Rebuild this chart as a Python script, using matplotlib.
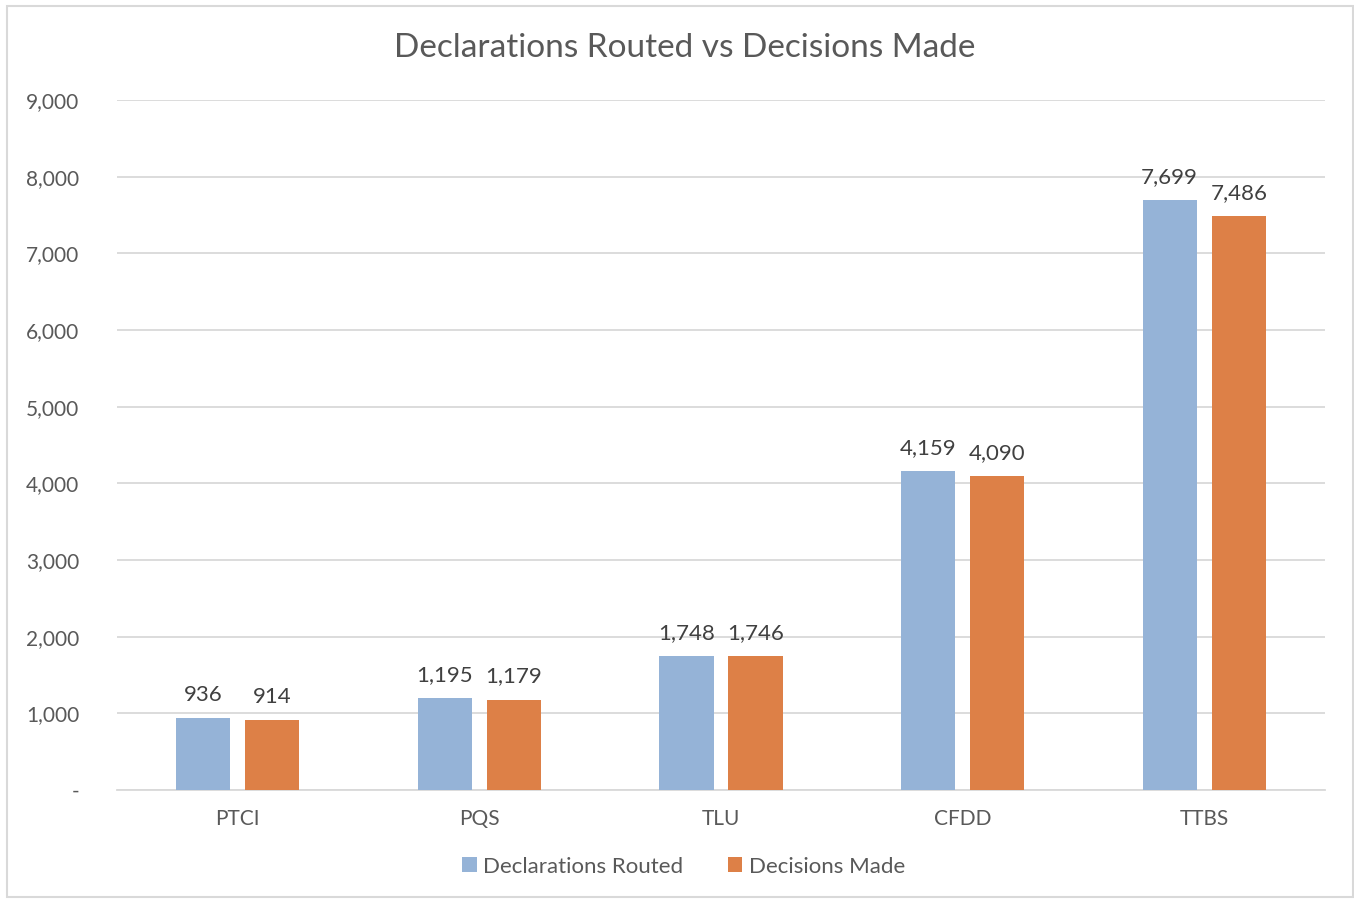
import numpy as np
import matplotlib.pyplot as plt
from matplotlib.patches import Rectangle
from matplotlib.ticker import FuncFormatter

plt.rcParams['font.family'] = ['Lato', 'DejaVu Sans']

categories = ['PTCI', 'PQS', 'TLU', 'CFDD', 'TTBS']
routed = [936, 1195, 1748, 4159, 7699]
decisions = [914, 1179, 1746, 4090, 7486]

blue = '#95B3D7'
orange = '#DD8047'
text_c = '#595959'
grid_c = '#D9D9D9'

fig = plt.figure(figsize=(13.54, 9), dpi=100)
ax = fig.add_axes([0.0864, 0.1222, 0.8922, 0.7667])

# Rahmen um das ganze Diagramm
fig.patches.append(Rectangle((0.0055, 0.003), 0.9935, 0.99, transform=fig.transFigure,
                             fill=False, edgecolor=grid_c, linewidth=1.5))

x = np.arange(len(categories))
w = 0.224
off = 0.143
b1 = ax.bar(x - off, routed, w, color=blue, label='Declarations Routed', zorder=3)
b2 = ax.bar(x + off, decisions, w, color=orange, label='Decisions Made', zorder=3)

for bars in (b1, b2):
    for r in bars:
        ax.text(r.get_x() + r.get_width() / 2, r.get_height() + 170, f'{int(r.get_height()):,}',
                ha='center', va='bottom', fontsize=16, color='#404040')

ax.set_xlim(-0.5, len(categories) - 0.5)
ax.set_ylim(0, 9000)
ax.set_yticks(range(0, 9001, 1000))
ax.yaxis.set_major_formatter(FuncFormatter(lambda v, p: '-' if v == 0 else f'{int(v):,}'))
ax.set_xticks(x)
ax.set_xticklabels(categories)
ax.tick_params(axis='both', length=0, labelsize=15, colors=text_c)
ax.tick_params(axis='y', pad=27)
ax.tick_params(axis='x', pad=14)
ax.grid(axis='y', color=grid_c, linewidth=1.3, zorder=0)
for s in ['top', 'right', 'left']:
    ax.spines[s].set_visible(False)
ax.spines['bottom'].set_color(grid_c)
ax.spines['bottom'].set_linewidth(1.3)

fig.text(0.5055, 0.947, 'Declarations Routed vs Decisions Made', ha='center', va='center',
         fontsize=24, color=text_c)

fig.legend(loc='center', bbox_to_anchor=(0.505, 0.037), ncol=2, frameon=False,
           fontsize=16, handlelength=0.65, handleheight=0.65, handletextpad=0.3,
           columnspacing=2.0, labelcolor=text_c)

fig.savefig('out.png', dpi=100)
